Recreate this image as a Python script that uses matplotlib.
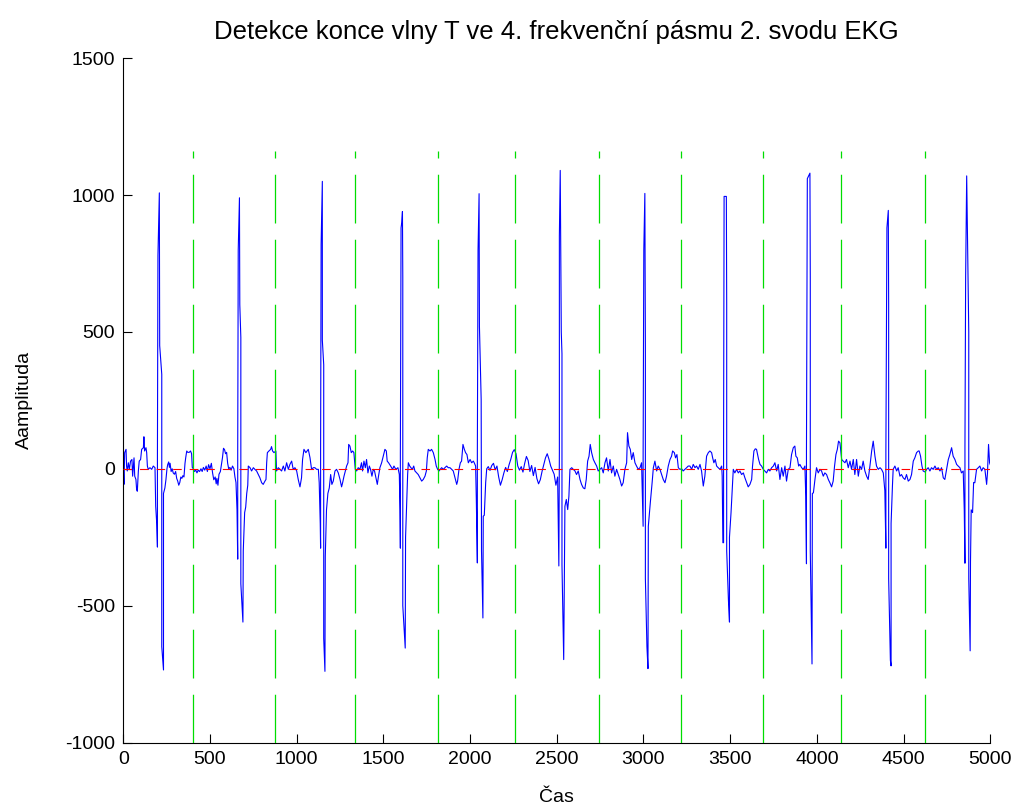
import numpy as np
import matplotlib
matplotlib.use("Agg")
import matplotlib.pyplot as plt

plt.rcParams['font.family'] = ['Liberation Sans', 'DejaVu Sans']
plt.rcParams['axes.unicode_minus'] = False

# signal: sample index / amplitude
t = [
    0, 4, 8, 16, 19, 23, 29, 35, 42, 50, 54, 62, 66, 73, 77, 81, 87, 92, 100, 106,
    116, 119, 123, 131, 135, 139, 144, 154, 164, 173, 183,
    # beat 1
    187, 193, 197, 197, 200, 208, 210, 222, 222, 232, 232, 240, 246, 252,
    256, 262, 266, 270, 276, 282, 288, 295, 302, 308, 314, 320, 326, 332, 338,
    344, 350, 356, 360, 366, 372, 380, 388, 394, 398,
    404, 410, 418, 425, 432, 440, 448, 455, 462, 470, 478, 485, 492, 500, 508,
    515, 522, 530, 536, 540, 546, 552, 560, 566, 572, 578, 584, 590, 596, 602,
    608, 615, 622, 630, 638, 644,
    # beat 2
    650, 656, 660, 660, 663, 670, 672, 678, 678, 690, 692, 700, 706, 712, 718,
    721, 731, 740, 750, 759, 769, 779, 788, 798, 807, 817, 823, 827, 831, 840,
    850, 855, 861, 869, 880, 884, 894, 904, 913, 923, 932, 942, 952, 961, 971,
    980, 990, 1000, 1009, 1019, 1028, 1034, 1042, 1053, 1067, 1077, 1086, 1096,
    1105, 1115, 1125, 1130,
    # beat 3
    1136, 1138, 1138, 1141, 1148, 1148, 1156, 1156, 1163, 1165, 1172, 1180,
    1188, 1196, 1203, 1211, 1221, 1230, 1240, 1250, 1259, 1265, 1273, 1280, 1288,
    1296, 1300, 1307, 1315, 1323, 1330, 1338, 1346, 1355, 1365, 1374, 1380, 1388,
    1396, 1403, 1411, 1419, 1426, 1434, 1442, 1449, 1457, 1465, 1472, 1480, 1490,
    1499, 1509, 1517, 1522, 1530, 1542, 1553, 1561, 1572, 1584, 1592,
    # beat 4
    1596, 1598, 1598, 1602, 1606, 1610, 1612, 1612, 1626, 1628, 1634, 1640,
    1644, 1652, 1659, 1667, 1675, 1682, 1692, 1701, 1711, 1721, 1730, 1740, 1748,
    1753, 1759, 1769, 1778, 1788, 1798, 1805, 1813, 1821, 1828, 1836, 1846, 1855,
    1865, 1874, 1884, 1894, 1903, 1913, 1923, 1928, 1936, 1944, 1951, 1959, 1967,
    1974, 1982, 1990, 2000, 2009, 2019, 2024, 2032,
    # beat 5
    2036, 2042, 2042, 2046, 2052, 2054, 2064, 2066, 2074, 2076, 2082, 2090,
    2096, 2105, 2115, 2125, 2135, 2145, 2155, 2165, 2175, 2185, 2195, 2205, 2215,
    2225, 2235, 2245, 2255, 2265, 2275, 2285, 2295, 2305, 2315, 2325, 2335, 2345,
    2355, 2365, 2375, 2385, 2395, 2405, 2415, 2425, 2435, 2445, 2455, 2465, 2475,
    2485, 2495, 2505,
    # beat 6
    2512, 2515, 2515, 2520, 2526, 2530, 2530, 2540, 2547, 2547,
    2555, 2563, 2570, 2576, 2586, 2595, 2605, 2614, 2624, 2634, 2643, 2653, 2662,
    2670, 2678, 2686, 2693, 2701, 2711, 2720, 2730, 2739, 2749, 2759, 2768, 2778,
    2787, 2797, 2807, 2816, 2826, 2835, 2845, 2855, 2864, 2874, 2883, 2893, 2903,
    2908, 2916, 2924, 2932, 2941, 2951, 2960, 2970, 2980, 2989,
    # beat 7
    2994, 2998, 2998, 3002, 3008, 3011, 3011, 3020, 3026, 3028, 3040, 3050,
    3057, 3066, 3076, 3085, 3095, 3105, 3114, 3124, 3133, 3143, 3153, 3162, 3168,
    3178, 3185, 3193, 3201, 3210, 3220, 3229, 3239, 3249, 3258, 3268, 3278, 3287,
    3297, 3306, 3316, 3326, 3335, 3345, 3354, 3364, 3374, 3383, 3393, 3399, 3406,
    3414, 3422, 3431, 3441, 3451, 3454,
    # beat 8
    3458, 3462, 3462, 3465, 3478, 3480, 3480, 3490, 3496, 3496, 3505, 3512,
    3518, 3527, 3537, 3547, 3556, 3566, 3576, 3585, 3595, 3604, 3614, 3624, 3629,
    3637, 3645, 3652, 3658, 3664, 3672, 3681, 3691, 3700, 3710, 3720, 3729, 3739,
    3749, 3758, 3768, 3777, 3787, 3797, 3806, 3816, 3825, 3835, 3845, 3854, 3864,
    3873, 3879, 3887, 3895, 3902, 3912, 3922, 3931,
    # beat 9
    3936, 3940, 3940, 3945, 3960, 3962, 3962, 3972, 3974, 3980,
    3989, 3998, 4008, 4018, 4027, 4037, 4046, 4056, 4066, 4075, 4085, 4094, 4102,
    4110, 4118, 4125, 4133, 4143, 4152, 4162, 4171, 4181, 4191, 4200, 4210, 4219,
    4229, 4239, 4248, 4258, 4267, 4277, 4287, 4296, 4306, 4316, 4325, 4335, 4344,
    4354, 4364, 4373, 4383,
    # beat 10
    4392, 4398, 4398, 4404, 4412, 4414, 4414, 4424, 4428, 4428, 4436,
    4440, 4450, 4460, 4469, 4479, 4488, 4498, 4508, 4517, 4527, 4537, 4546, 4556,
    4565, 4575, 4585, 4590, 4598, 4606, 4613, 4625, 4633, 4642, 4652, 4661, 4671,
    4681, 4690, 4700, 4710, 4719, 4729, 4738, 4748, 4758, 4767, 4777, 4786, 4796,
    4806, 4815, 4825, 4834, 4844,
    # beat 11
    4850, 4854, 4854, 4858, 4864, 4872, 4876, 4876, 4884, 4886, 4890, 4898, 4904,
    4911, 4921, 4931, 4940, 4950, 4959, 4969, 4979, 4984, 4990, 4996, 5000,
]
amp = [
    10, -57, 59, 71, 10, -8, 22, -2, 28, 34, -27, 40, -27, -39, -76, -82, -8, 28, 34, 71,
    77, 117, 65, 77, 59, 10, -2, 4, -2, 10, 4,
    -137, -200, -286, 50, 780, 1008, 450, 345, -650, -735, -90, -70, -40, 0,
    15, 25, 5, 20, -10, 0, -15, -20, -10, -35, -45, -60, -50, -30, -35,
    -25, -30, 20, 40, 65, 60, 60, 65, 55, 5,
    0, -10, -5, -15, -5, -10, 0, -10, 5, -5, 10, -10, 15, 0, 20,
    -15, -40, -30, -55, -35, -60, -20, -10, 15, 40, 75, 70, 55, 60, 20,
    0, 5, -5, 10, 0, -30,
    -50, -150, -330, 60, 800, 990, 600, 480, -420, -560, -300, -160, -140, -90, -60,
    10, 4, -8, 4, -2, -8, -21, -33, -51, -57, -45, -39, 22, 59, 65,
    71, 81, 65, 59, 65, -8, 4, -2, -8, 10, -8, 22, -2, 16, 28,
    -2, 4, -8, -39, -66, -33, 34, 71, 59, 71, 40, -2, 4,
    4, -2, -2, -51,
    -200, -290, 70, 820, 1050, 470, 380, -620, -740, -320, -150, -90,
    -70, -21, -57, -45, -8, -2, -15, -39, -66, -51, -27, -9, 10,
    22, 89, 83, 59, 65, 59, -2, -8, 4, -2, 22, -8, 28,
    4, 34, -15, 10, -2, -27, -2, -8, -33, -57, -27, 4, 22,
    46, 71, 65, 28, 22, 10, -2, 10, -2, 4, -21,
    -150, -290, 50, 880, 900, 940, 700, -500, -655, -250, -140, -20,
    22, 10, 4, -2, 10, -8, -15, -21, -33, -45, -39, -27, -8,
    40, 71, 65, 71, 59, 34, 10, -2, -8, -2, 4, -2, 4,
    10, 4, 4, -2, -8, -33, -57, -45, -2, 22, 28, 89, 71,
    59, 52, 22, 34, 22, 28, 22, 10,
    -110, -344, 60, 800, 1005, 520, 253, -300, -545, -173, -170, -50,
    0, 8, -6, 12, 20, -4, 10, -30, -60, -40, -15, 5, -10,
    15, 35, 60, 70, 55, 10, -5, 8, -12, 20, 45, 30, -10,
    12, -25, 5, -35, -55, -40, -10, 15, 40, 55, 35, 10, -5,
    -20, -60, -30,
    -355, 60, 850, 1090, 500, 420, -350, -697, -150, -137,
    -112, -149, -100, -2, 4, -2, -8, -21, -8, -39, -57, -70, -73,
    -39, 28, 46, 89, 59, 34, 22, 10, -8, -2, 4, -15, 22,
    40, -8, 34, -15, 10, -27, -2, -21, -39, -63, -51, -2, 22,
    132, 83, 71, 34, 59, 22, 10, -2, 4, 22,
    -100, -210, 50, 800, 1006, 450, -400, -650, -730, -210, -120, -50,
    4, 28, -8, 10, -2, -21, -39, -51, -27, 10, 34, 46, 65,
    59, 40, 52, 4, -2, 0, -8, -2, 4, 10, 10, -2, 16,
    4, 10, -2, 16, -8, -63, -27, 46, 59, 65, 59, 40, 22,
    34, 10, 4, -2, 10, -27,
    -270, -270, 100, 995, 995, 600, -300, -480, -560, -250, -160, -75,
    -2, -15, -2, -15, -8, -21, -15, -33, -51, -66, -57, -39, 10,
    65, 73, 71, 52, 34, 16, 10, -2, -8, -15, -2, -8, 4,
    10, 22, -8, 16, -39, 4, -27, 10, -45, -2, 4, 52, 77,
    83, 46, 40, 10, 16, 4, -2, 10,
    -100, -347, 60, 1060, 1080, 700, -300, -713, -90, -88,
    -39, 4, -15, -2, -8, -27, -15, -21, -39, -51, -66, -45, 10,
    52, 71, 101, 95, 34, 28, 22, 34, 4, 28, -2, 34, -21,
    34, -27, 10, -2, 28, -8, -27, -39, 10, 65, 101, 46, 10,
    -2, 4, -2, -15,
    -80, -290, 60, 880, 944, 600, -400, -700, -720, -200, -60,
    -2, 10, -8, 4, -27, -21, -33, -39, -21, -45, -39, -21, 28,
    40, 59, 65, 65, 46, 10, -8, -12, -2, 4, -8, 4, -2,
    10, -2, 4, -8, 4, -33, -39, -2, 34, 52, 77, 46, 34,
    16, 10, 4, -15, -8,
    -150, -345, 80, 700, 1070, 700, 500, -400, -665, -340, -150, -160, -50,
    -51, -2, 4, 10, -8, 4, -2, -57, -15, 89, 22, 15,
]

# vertical marks (end of T wave detection) and plot limits
t_marks = [404, 877, 1338, 1813, 2261, 2745, 3218, 3691, 4141, 4625]
mark_top = 1160
x_ticks = [0, 500, 1000, 1500, 2000, 2500, 3000, 3500, 4000, 4500, 5000]
y_ticks = [-1000, -500, 0, 500, 1000, 1500]

fig = plt.figure(figsize=(10.23, 8.07), dpi=100)
ax = fig.add_axes([0.1205, 0.0799, 0.8475, 0.848])

ax.plot(t, amp, color='#0000ff', lw=0.8, zorder=2)
for tm in t_marks:
    ax.plot([tm, tm], [-1000, mark_top], color='#00dd00', lw=0.9,
            dashes=(39, 13), zorder=3)
ax.plot([0, 5000], [0, 0], color='#ff0000', lw=0.8, dashes=(7.7, 7.2), zorder=4)

ax.set_xlim(0, 5000)
ax.set_ylim(-1000, 1500)
ax.set_xticks(x_ticks)
ax.set_yticks(y_ticks)
ax.tick_params(direction='in', length=6.5, width=0.8, labelsize=14, pad=6)
ax.spines['top'].set_visible(False)
ax.spines['right'].set_visible(False)
for s in ['left', 'bottom']:
    ax.spines[s].set_linewidth(0.8)

ax.set_title('Detekce konce vlny T ve 4. frekvenční pásmu 2. svodu EKG',
             fontsize=18.5, pad=14)
ax.set_xlabel('Čas', fontsize=14, labelpad=15)
ax.set_ylabel('Aamplituda', fontsize=14, labelpad=23)

fig.savefig('out.png', dpi=100)
